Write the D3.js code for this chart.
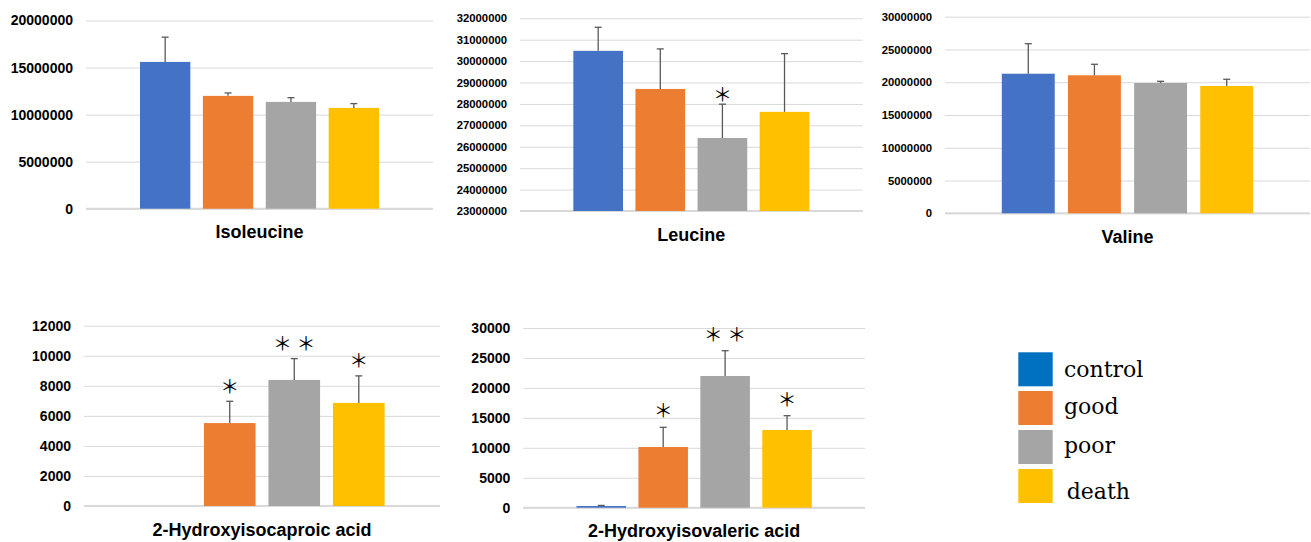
<!DOCTYPE html>
<html>
<head>
<meta charset="utf-8">
<script src="https://cdn.jsdelivr.net/npm/d3@7"></script>
<style>
  body { margin: 0; background: #fff; }
  svg { display: block; }
</style>
</head>
<body>
<div id="chart"></div>
<script>
// groups + colours
const groups = ["control", "good", "poor", "death"];
const barColors = ["#4472C4", "#ED7D31", "#A5A5A5", "#FFC000"];
const legendColors = ["#0070C0", "#ED7D31", "#A5A5A5", "#FFC000"];

// values (mean, upper error)
const isoleucineMean = [15600000, 11990000, 11350000, 10710000];
const isoleucineErr  = [2630000, 310000, 450000, 460000];
const leucineMean = [30480000, 28700000, 26410000, 27630000];
const leucineErr  = [1100000, 1870000, 1580000, 2720000];
const valineMean = [21300000, 21060000, 19880000, 19430000];
const valineErr  = [4580000, 1680000, 260000, 1020000];
const hicaMean = [null, 5520, 8390, 6860];
const hicaErr  = [null, 1450, 1420, 1800];
const hivaMean = [280, 10130, 21990, 12970];
const hivaErr  = [100, 3290, 4220, 2390];

const leucineSig = ["", "", "＊", ""];
const hicaSig = ["", "＊", "＊＊", "＊"];
const hivaSig = ["", "＊", "＊＊", "＊"];

// axis ranges / tick steps
const isoleucineTicks = [0, 20000000, 5000000];
const leucineTicks = [23000000, 32000000, 1000000];
const valineTicks = [0, 30000000, 5000000];
const hicaTicks = [0, 12000, 2000];
const hivaTicks = [0, 30000, 5000];

const panels = [
  {title: "Isoleucine", mean: isoleucineMean, err: isoleucineErr, sig: null, ticks: isoleucineTicks,
   x0: 86, x1: 433, top: 20.5, base: 208.7, tickSize: 14, tickWeight: "bold"},
  {title: "Leucine", mean: leucineMean, err: leucineErr, sig: leucineSig, ticks: leucineTicks,
   x0: 520, x1: 862.7, top: 18.3, base: 211, tickSize: 11.3, tickWeight: "bold", sigGap: 11},
  {title: "Valine", mean: valineMean, err: valineErr, sig: null, ticks: valineTicks,
   x0: 945, x1: 1310, top: 16.7, base: 213.3, tickSize: 11.3, tickWeight: "bold"},
  {title: "2-Hydroxyisocaproic acid", mean: hicaMean, err: hicaErr, sig: hicaSig, ticks: hicaTicks,
   x0: 84, x1: 440, top: 325.7, base: 506, tickSize: 14, tickWeight: "bold", sigGap: 16},
  {title: "2-Hydroxyisovaleric acid", mean: hivaMean, err: hivaErr, sig: hivaSig, ticks: hivaTicks,
   x0: 523.3, x1: 865, top: 328, base: 507.7, tickSize: 14, tickWeight: "600", sigGap: 17.5}
];

const svg = d3.select("#chart").append("svg")
  .attr("width", 1311)
  .attr("height", 542);

panels.forEach(p => {
  const g = svg.append("g");
  const W = p.x1 - p.x0;
  const [lo, hi, step] = p.ticks;

  const y = d3.scaleLinear().domain([lo, hi]).range([p.base, p.top]);
  const x = d3.scaleBand()
    .domain(groups)
    .range([p.x0 + W * 0.1375, p.x1 - W * 0.1375])
    .paddingInner(0.2)
    .paddingOuter(0.1);

  const axis = d3.axisLeft(y)
    .tickValues(d3.range(lo, hi + step / 2, step))
    .tickFormat(d3.format("d"))
    .tickSize(-W)
    .tickPadding(13);

  const ax = g.append("g")
    .attr("transform", `translate(${p.x0},0)`)
    .call(axis);
  ax.select(".domain").remove();
  ax.selectAll(".tick line").attr("stroke", "#d9d9d9").attr("stroke-width", 1);
  ax.selectAll(".tick text")
    .attr("fill", "#000")
    .style("font-family", "'Liberation Sans', Arial, sans-serif")
    .style("font-size", p.tickSize + "px")
    .style("font-weight", p.tickWeight);

  // baseline
  g.append("line")
    .attr("x1", p.x0).attr("x2", p.x1)
    .attr("y1", y(lo)).attr("y2", y(lo))
    .attr("stroke", "#d9d9d9").attr("stroke-width", 2);

  const rows = groups.map((k, i) => ({k, i, v: p.mean[i], e: p.err[i], s: p.sig ? p.sig[i] : ""}))
    .filter(d => d.v != null);

  g.selectAll(".bar").data(rows).enter().append("rect")
    .attr("x", d => x(d.k))
    .attr("width", x.bandwidth())
    .attr("y", d => y(d.v))
    .attr("height", d => y(lo) - y(d.v))
    .attr("fill", d => barColors[d.i]);

  // error bars (plus only)
  const eb = g.selectAll(".err").data(rows.filter(d => d.e)).enter().append("g")
    .attr("stroke", "#595959").attr("stroke-width", 1.3);
  eb.append("line")
    .attr("x1", d => x(d.k) + x.bandwidth() / 2).attr("x2", d => x(d.k) + x.bandwidth() / 2)
    .attr("y1", d => y(d.v)).attr("y2", d => y(d.v + d.e));
  eb.append("line")
    .attr("x1", d => x(d.k) + x.bandwidth() / 2 - 3.5).attr("x2", d => x(d.k) + x.bandwidth() / 2 + 3.5)
    .attr("y1", d => y(d.v + d.e)).attr("y2", d => y(d.v + d.e));

  // significance marks, one text per star
  const stars = [];
  rows.filter(d => d.s).forEach(d => {
    const chars = Array.from(d.s);
    chars.forEach((c, j) => stars.push({
      c,
      cx: x(d.k) + x.bandwidth() / 2 + (j - (chars.length - 1) / 2) * 23.5,
      cy: y(d.v + d.e) - p.sigGap
    }));
  });
  g.selectAll(".sig").data(stars).enter().append("text")
    .attr("x", d => d.cx)
    .attr("y", d => d.cy)
    .attr("text-anchor", "middle")
    .attr("dominant-baseline", "central")
    .style("font-family", "'Noto Sans CJK JP', sans-serif")
    .style("font-size", "19px")
    .attr("fill", "#000")
    .text(d => d.c);

  g.append("text")
    .attr("x", (p.x0 + p.x1) / 2)
    .attr("y", p.base + 29.5)
    .attr("text-anchor", "middle")
    .style("font-family", "'Liberation Sans', Arial, sans-serif")
    .style("font-size", "18px")
    .style("font-weight", "bold")
    .attr("fill", "#000")
    .text(p.title);
});

// legend
const legendTop = [352.3, 391, 430, 469];
const legendBaseline = [24.4, 23, 23.3, 30.3];
const legendTextX = [1064, 1064, 1064, 1066.7];
const lg = svg.append("g");
groups.forEach((name, i) => {
  lg.append("rect")
    .attr("x", 1018.3).attr("y", legendTop[i])
    .attr("width", 34.4).attr("height", 34)
    .attr("fill", legendColors[i]);
  lg.append("text")
    .attr("x", legendTextX[i])
    .attr("y", legendTop[i] + legendBaseline[i])
    .style("font-family", "'DejaVu Serif', serif")
    .style("font-size", "22px")
    .attr("fill", "#000")
    .text(name);
});
</script>
</body>
</html>
